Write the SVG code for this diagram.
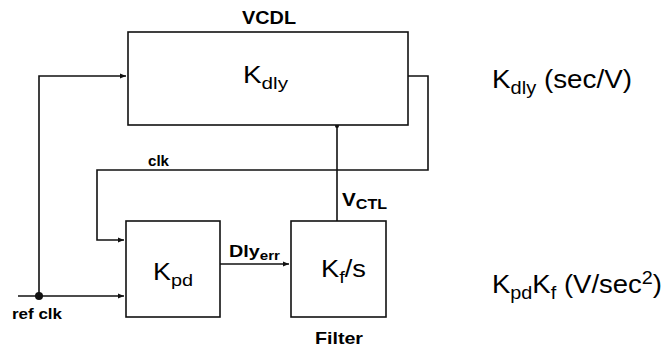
<svg xmlns="http://www.w3.org/2000/svg" width="664" height="348" viewBox="0 0 664 348">
<defs>
<marker id="arr" markerWidth="7" markerHeight="6" refX="6" refY="3" orient="auto" markerUnits="userSpaceOnUse">
<path d="M0,0.5 L6,3 L0,5.5 Z" fill="#111"/>
</marker>
<style>
.box{fill:#fff;stroke:#111;stroke-width:1.6}
.ln{fill:none;stroke:#111;stroke-width:1.6}
.b{font-family:"Liberation Sans",Arial,sans-serif;font-weight:bold;fill:#000}
.r{font-family:"Liberation Sans",Arial,sans-serif;fill:#000}
</style>
</defs>
<rect width="664" height="348" fill="#fff"/>
<g id="connectors">
<polyline class="ln" points="39,296 39,76 126,76" marker-end="url(#arr)"/>
<polyline class="ln" points="408,76 428,76 428,170 97,170 97,240 124,240" marker-end="url(#arr)"/>
<polyline class="ln" points="18,296 124,296" marker-end="url(#arr)"/>
<circle cx="39" cy="296" r="4" fill="#111"/>
<polyline class="ln" points="220,264 289,264" marker-end="url(#arr)"/>
<polyline class="ln" points="337,221 337,125"/>
<circle cx="337" cy="126" r="2" fill="#111"/>
<text class="b" x="148" y="166" font-size="14" textLength="21" lengthAdjust="spacingAndGlyphs">clk</text>
<text class="b" x="12" y="319" font-size="14" textLength="50" lengthAdjust="spacingAndGlyphs">ref clk</text>
<text class="b" x="229" y="257" font-size="17" textLength="51" lengthAdjust="spacingAndGlyphs">Dly<tspan font-size="13" dy="3">err</tspan></text>
<text class="b" x="342" y="206" font-size="18" textLength="45" lengthAdjust="spacingAndGlyphs">V<tspan font-size="14" dy="3">CTL</tspan></text>
</g>
<g id="vcdl">
<rect class="box" x="128" y="32" width="280" height="93"/>
<text class="b" x="242" y="24" font-size="18" textLength="54" lengthAdjust="spacingAndGlyphs">VCDL</text>
<text class="r" x="243" y="83" font-size="23" textLength="45" lengthAdjust="spacingAndGlyphs">K<tspan font-size="17" dy="6">dly</tspan></text>
</g>
<g id="pd">
<rect class="box" x="126" y="221" width="94" height="96"/>
<text class="r" x="153" y="280" font-size="23" textLength="40" lengthAdjust="spacingAndGlyphs">K<tspan font-size="17" dy="6">pd</tspan></text>
</g>
<g id="filter">
<rect class="box" x="291" y="221" width="95" height="96"/>
<text class="r" x="321" y="277" font-size="23" textLength="45" lengthAdjust="spacingAndGlyphs">K<tspan font-size="17" dy="6">f</tspan><tspan dy="-6">/s</tspan></text>
<text class="b" x="315" y="344" font-size="17" textLength="48" lengthAdjust="spacingAndGlyphs">Filter</text>
</g>
<g id="gains">
<text class="r" x="492" y="88" font-size="25" textLength="140" lengthAdjust="spacingAndGlyphs">K<tspan font-size="18" dy="6">dly</tspan><tspan dy="-6"> (sec/V)</tspan></text>
<text class="r" x="492" y="293" font-size="25" textLength="170" lengthAdjust="spacingAndGlyphs">K<tspan font-size="18" dy="6">pd</tspan><tspan dy="-6">K</tspan><tspan font-size="18" dy="6">f</tspan><tspan dy="-6"> (V/sec</tspan><tspan font-size="18" dy="-9">2</tspan><tspan dy="9">)</tspan></text>
</g>
</svg>
